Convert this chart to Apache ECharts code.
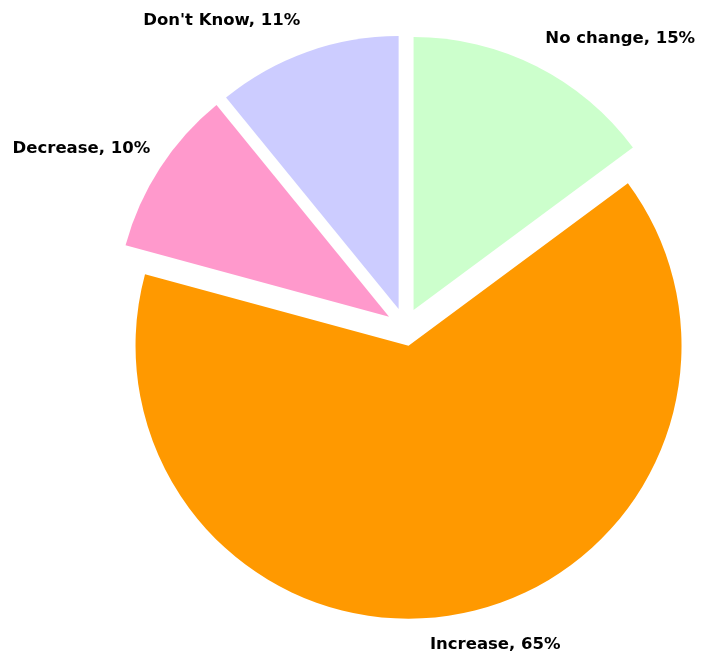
<!DOCTYPE html>
<html>
<head>
<meta charset="utf-8">
<script src="https://cdn.jsdelivr.net/npm/echarts@6/dist/echarts.min.js"></script>
<style>
  html, body { margin: 0; padding: 0; background: #ffffff; }
  #chart { width: 701px; height: 655px; }
</style>
</head>
<body>
<div id="chart"></div>
<script>
// Survey answers and their shares (percent)
const categories = ["No change", "Increase", "Decrease", "Don't Know"];
const shares = [15, 65, 10, 11];
const sliceColors = ["#CCFFCC", "#FF9900", "#FF99CC", "#CCCCFF"];

// Small per-label nudges applied after the outside-label layout
const labelNudgeX = [-13, -46, 20, 13];
const labelNudgeY = [-10, 11, -8, -12];

const chart = echarts.init(document.getElementById('chart'), null, { renderer: 'canvas' });

const pieData = categories.map((name, i) => ({
  name: name,
  value: shares[i],
  selected: true,
  itemStyle: { color: sliceColors[i] },
  select: { itemStyle: { color: sliceColors[i] } }
}));

chart.setOption({
  animation: false,
  backgroundColor: '#ffffff',
  series: [{
    type: 'pie',
    center: [405, 327],
    radius: 273,
    startAngle: 90,
    clockwise: true,
    selectedMode: 'multiple',
    selectedOffset: 19,
    avoidLabelOverlap: false,
    emphasis: { disabled: true },
    itemStyle: { borderWidth: 0 },
    label: {
      show: true,
      position: 'outside',
      formatter: '{b}, {c}%',
      fontFamily: 'DejaVu Sans',
      fontWeight: 'bold',
      fontSize: 16.5,
      color: '#000000'
    },
    labelLine: { show: false, length: 20, length2: 8 },
    labelLayout: function (params) {
      const i = params.dataIndex;
      return { dx: labelNudgeX[i], dy: labelNudgeY[i] };
    },
    data: pieData
  }]
});
</script>
</body>
</html>
